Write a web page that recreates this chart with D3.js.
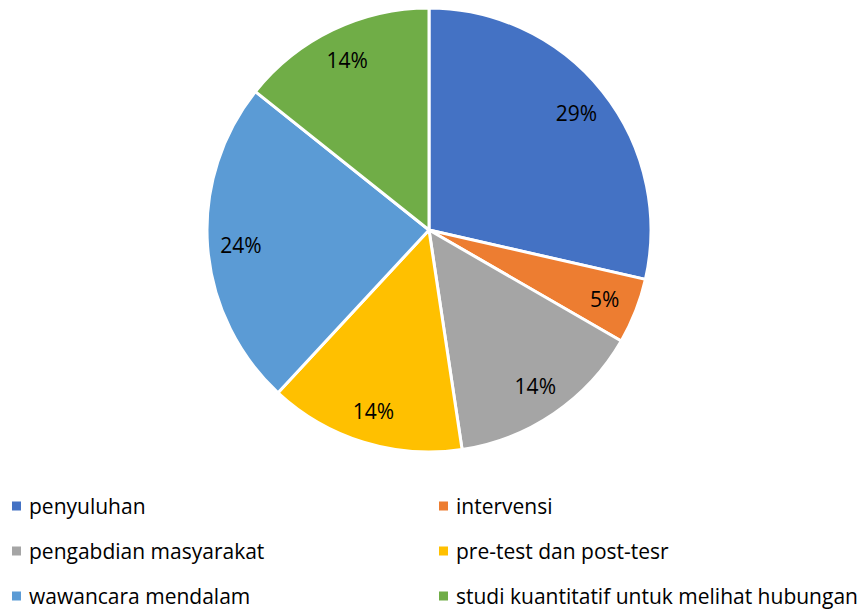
<!DOCTYPE html>
<html>
<head>
<meta charset="utf-8">
<script src="https://cdn.jsdelivr.net/npm/d3@7"></script>
<style>
  body { margin: 0; background: #fff; }
  text { font-family: "Open Sans", "Noto Sans", sans-serif; fill: #000; }
</style>
</head>
<body>
<div id="chart"></div>
<script>
// data (counts out of 21)
var categories = ["penyuluhan", "intervensi", "pengabdian masyarakat", "pre-test dan post-tesr", "wawancara mendalam", "studi kuantitatif untuk melihat hubungan"];
var values = [6, 1, 3, 3, 5, 3];
var colors = ["#4472C4", "#ED7D31", "#A5A5A5", "#FFC000", "#5B9BD5", "#70AD47"];

var width = 859, height = 612;
var cx = 429, cy = 230, radius = 222;

var svg = d3.select("#chart")
  .append("svg")
  .attr("width", width)
  .attr("height", height);

var data = categories.map(function(c, i) { return { name: c, value: values[i], color: colors[i] }; });
var total = d3.sum(values);

// Set up the pie layout, clockwise from 12 o'clock
var pie = d3.pie()
  .sort(null)
  .value(function(d) { return d.value; });

var arc = d3.arc()
  .innerRadius(0)
  .outerRadius(radius);

var labelArc = d3.arc()
  .innerRadius(radius * 0.85)
  .outerRadius(radius * 0.85);

var g = svg.append("g")
  .attr("transform", "translate(" + cx + "," + cy + ")");

g.selectAll("path")
  .data(pie(data))
  .enter()
  .append("path")
  .attr("d", arc)
  .attr("fill", function(d) { return d.data.color; })
  .attr("stroke", "#fff")
  .attr("stroke-width", 3)
  .attr("stroke-linejoin", "round");

// percentage labels
g.selectAll("text.label")
  .data(pie(data))
  .enter()
  .append("text")
  .attr("class", "label")
  .attr("transform", function(d) { return "translate(" + labelArc.centroid(d) + ")"; })
  .attr("text-anchor", "middle")
  .attr("dy", "0.4em")
  .style("font-size", "21px")
  .text(function(d) { return d3.format(".0%")(d.data.value / total); });

// legend, two columns
var legend = svg.append("g");
var item = legend.selectAll("g")
  .data(data)
  .enter()
  .append("g")
  .attr("transform", function(d, i) {
    var col = i % 2, row = Math.floor(i / 2);
    return "translate(" + (col === 0 ? 12 : 439) + "," + (506 + row * 45) + ")";
  });

item.append("rect")
  .attr("x", 0)
  .attr("y", -4.5)
  .attr("width", 9)
  .attr("height", 9)
  .attr("fill", function(d) { return d.color; });

item.append("text")
  .attr("x", 17)
  .attr("dy", "0.36em")
  .style("font-size", "21px")
  .text(function(d) { return d.name; });
</script>
</body>
</html>
